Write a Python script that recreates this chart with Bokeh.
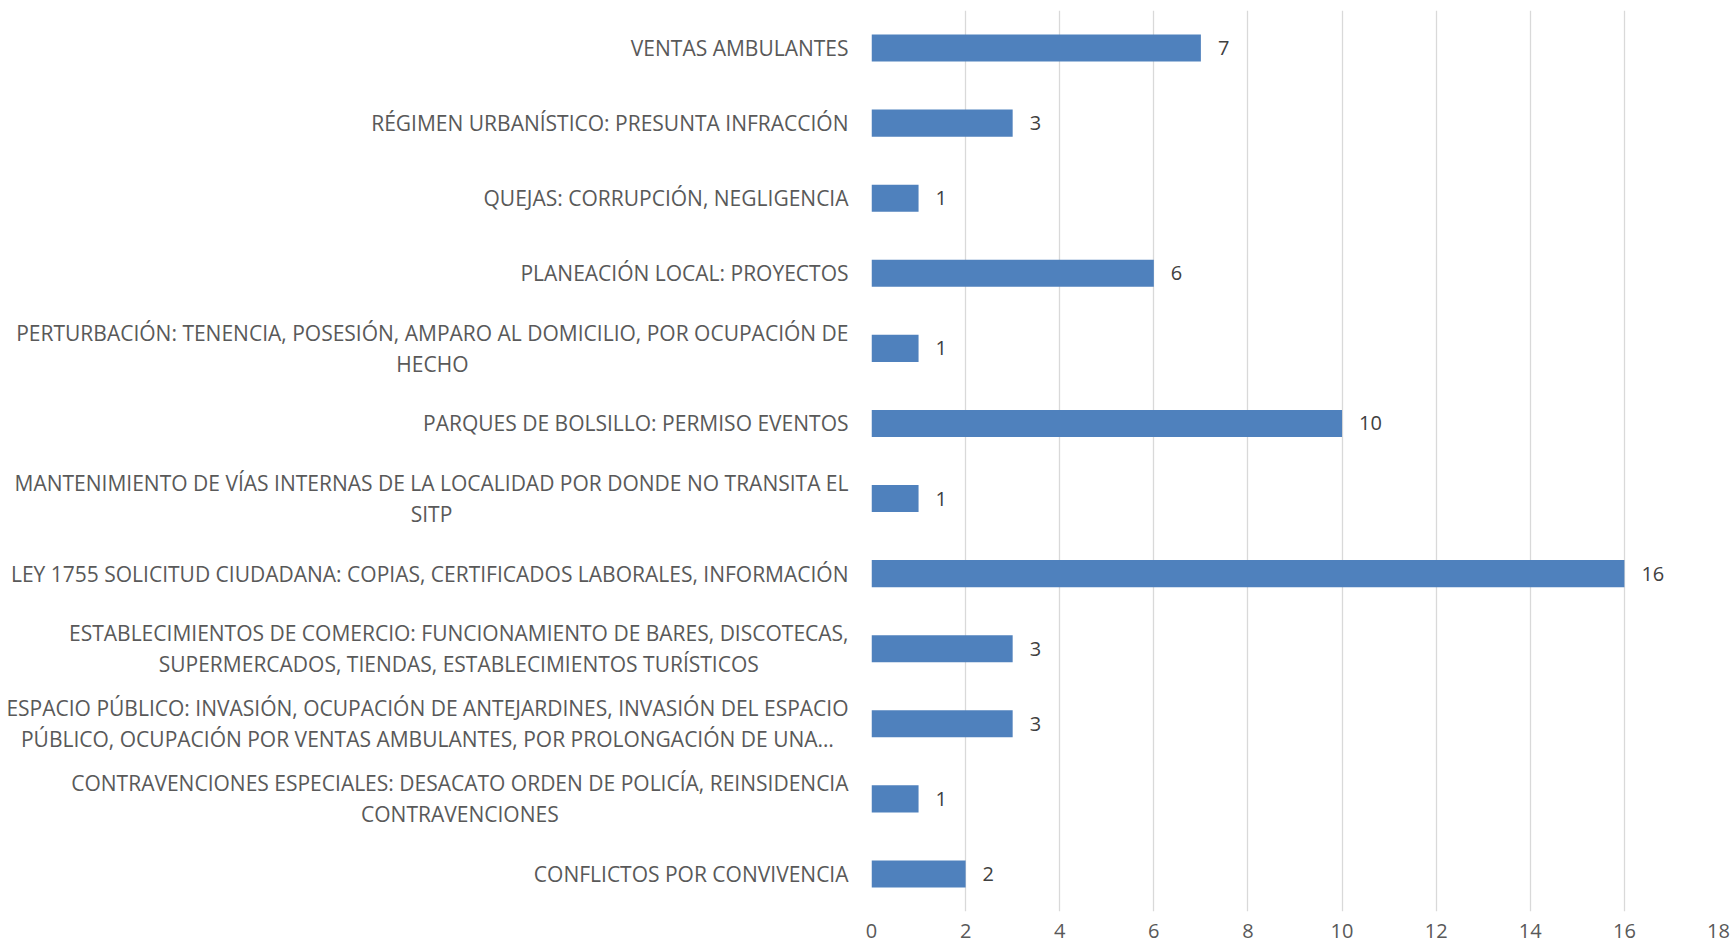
from bokeh.plotting import figure
from bokeh.layouts import row
from bokeh.models import ColumnDataSource, FactorRange, Range1d, FixedTicker, LabelSet
from bokeh.core.properties import value
from bokeh.embed import file_html
from bokeh.resources import INLINE

# Data (top to bottom as shown)
categories = [
    "VENTAS AMBULANTES",
    "RÉGIMEN URBANÍSTICO: PRESUNTA INFRACCIÓN",
    "QUEJAS: CORRUPCIÓN, NEGLIGENCIA",
    "PLANEACIÓN LOCAL: PROYECTOS",
    "PERTURBACIÓN: TENENCIA, POSESIÓN, AMPARO AL DOMICILIO, POR OCUPACIÓN DE\nHECHO",
    "PARQUES DE BOLSILLO: PERMISO EVENTOS",
    "MANTENIMIENTO DE VÍAS INTERNAS DE LA LOCALIDAD POR DONDE NO TRANSITA EL\nSITP",
    "LEY 1755 SOLICITUD CIUDADANA: COPIAS, CERTIFICADOS LABORALES, INFORMACIÓN",
    "ESTABLECIMIENTOS DE COMERCIO: FUNCIONAMIENTO DE BARES, DISCOTECAS,\nSUPERMERCADOS, TIENDAS, ESTABLECIMIENTOS TURÍSTICOS",
    "ESPACIO PÚBLICO: INVASIÓN, OCUPACIÓN DE ANTEJARDINES, INVASIÓN DEL ESPACIO\nPÚBLICO, OCUPACIÓN POR VENTAS AMBULANTES, POR PROLONGACIÓN DE UNA…",
    "CONTRAVENCIONES ESPECIALES: DESACATO ORDEN DE POLICÍA, REINSIDENCIA\nCONTRAVENCIONES",
    "CONFLICTOS POR CONVIVENCIA",
]
values = [7, 3, 1, 6, 1, 10, 1, 16, 3, 3, 1, 2]
x_ticks = [0, 2, 4, 6, 8, 10, 12, 14, 16, 18]

FONT = "Open Sans"

source = ColumnDataSource(dict(
    cat=categories,
    val=values,
    lbl=[str(v) for v in values],
    lx=[1] * len(categories),
))

y_range = FactorRange(factors=list(reversed(categories)), range_padding=0)

# ---- left panel: category labels ----
lp = figure(
    width=851, height=950,
    y_range=y_range, x_range=Range1d(0, 1),
    x_axis_location=None, y_axis_location=None,
    output_backend="svg", toolbar_location=None,
    min_border_left=0, min_border_right=0,
    min_border_top=10, min_border_bottom=39,
)
lp.outline_line_color = None
lp.xgrid.grid_line_color = None
lp.ygrid.grid_line_color = None
lp.text(x="lx", y="cat", text="cat", source=source,
        x_offset=-3, anchor="center_right",
        text_align="center", text_baseline="middle",
        text_font=value(FONT), text_font_size="21px", text_color="#595959",
        text_line_height=1.1)

# ---- main panel: bars ----
p = figure(
    width=883, height=950,
    y_range=y_range,
    x_range=Range1d(0, 18),
    y_axis_location=None,
    output_backend="svg", toolbar_location=None,
    min_border_left=20, min_border_right=16,
    min_border_top=10, min_border_bottom=39,
)

p.hbar(y="cat", right="val", left=0, height=0.36, source=source,
       fill_color="#4F81BD", line_color=None)

labels = LabelSet(x="val", y="cat", text="lbl", source=source,
                  x_offset=17, text_baseline="middle", text_align="left",
                  text_font=value(FONT), text_font_size="20px", text_color="#404040")
p.add_layout(labels)

p.outline_line_color = None
p.xgrid.grid_line_color = "#D9D9D9"
p.xgrid.grid_line_width = 1.3
p.ygrid.grid_line_color = None
p.xaxis.ticker = FixedTicker(ticks=x_ticks)

p.xaxis.axis_line_color = None
p.xaxis.major_tick_line_color = None
p.xaxis.minor_tick_line_color = None
p.xaxis.major_tick_out = 0
p.xaxis.major_tick_in = 0
p.xaxis.major_label_standoff = 12
p.xaxis.major_label_text_font = FONT
p.xaxis.major_label_text_font_size = "20px"
p.xaxis.major_label_text_color = "#595959"

layout = row(lp, p, spacing=0)
open("out.html", "w").write(file_html(layout, INLINE))
